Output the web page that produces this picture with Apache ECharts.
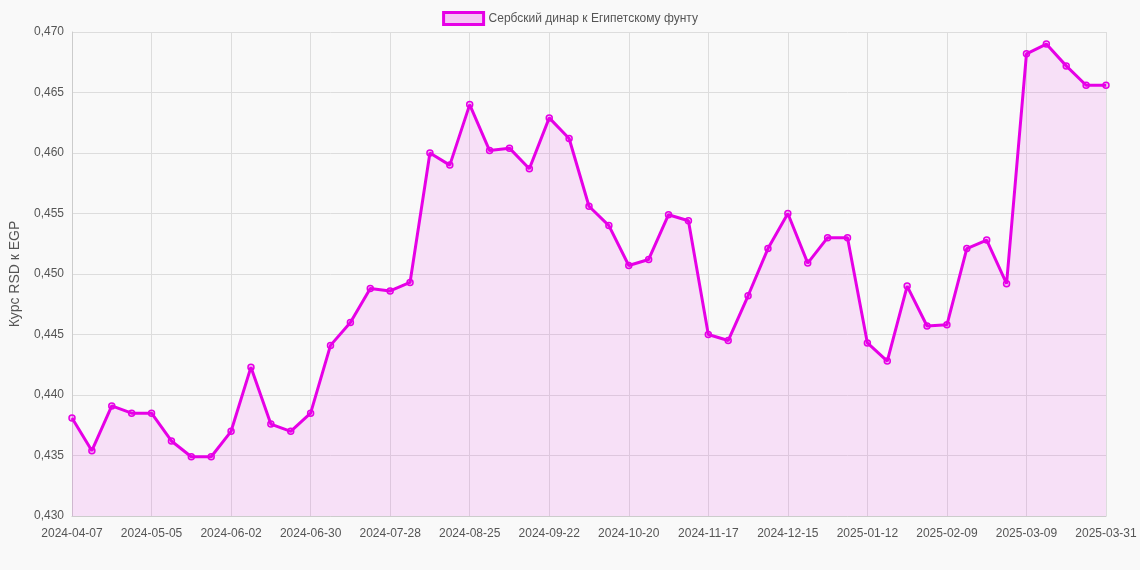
<!DOCTYPE html>
<html>
<head>
<meta charset="utf-8">
<script src="https://cdn.jsdelivr.net/npm/echarts@6/dist/echarts.min.js"></script>
<style>html,body{margin:0;background:#f9f9f9}#main{width:1140px;height:570px}</style>
</head>
<body>
<div id="main"></div>
<script>
// даты (еженедельно) и курс RSD к EGP
var dates = [];
var d0 = Date.UTC(2024, 3, 7);
for (var k = 0; k < 52; k++) {
    dates.push(new Date(d0 + k * 7 * 86400000).toISOString().slice(0, 10));
}
dates.push('2025-03-31');

var rates = [0.4381, 0.4354, 0.4391, 0.4385, 0.4385, 0.4362, 0.4349, 0.4349, 0.4370, 0.4423,
    0.4376, 0.4370, 0.4385, 0.4441, 0.4460, 0.4488, 0.4486, 0.4493, 0.4600, 0.4590,
    0.4640, 0.4602, 0.4604, 0.4587, 0.4629, 0.4612, 0.4556, 0.4540, 0.4507, 0.4512,
    0.4549, 0.4544, 0.4450, 0.4445, 0.4482, 0.4521, 0.4550, 0.4509, 0.4530, 0.4530,
    0.4443, 0.4428, 0.4490, 0.4457, 0.4458, 0.4521, 0.4528, 0.4492, 0.4682, 0.4690,
    0.4672, 0.4656, 0.4656];

var seriesName = 'Сербский динар к Египетскому фунту';

var myChart = echarts.init(document.getElementById('main'));
myChart.setOption({
    backgroundColor: '#f9f9f9',
    textStyle: {fontFamily: 'Arial, Liberation Sans, sans-serif'},
    legend: {
        top: 6, itemWidth: 40, itemHeight: 12,
        textStyle: {color: '#555', fontSize: 12},
        data: [{name: seriesName, icon: 'rect', itemStyle: {color: 'rgba(230,0,230,0.2)', borderColor: '#e600e6', borderWidth: 3}}]
    },
    grid: {left: 62, right: 34, top: 32, bottom: 54},
    xAxis: {
        type: 'category', boundaryGap: false, data: dates,
        axisLine: {lineStyle: {color: '#ccc'}},
        axisTick: {show: false},
        axisLabel: {
            color: '#555', fontSize: 12, margin: 12,
            interval: function (i) { return i % 4 === 0 || i === dates.length - 1; }
        },
        splitLine: {show: true, interval: function (i) { return i % 4 === 0 || i === dates.length - 1; }, lineStyle: {color: '#ddd'}}
    },
    yAxis: {
        type: 'value', min: 0.430, max: 0.470, interval: 0.005,
        name: 'Курс RSD к EGP', nameLocation: 'middle', nameGap: 50,
        nameTextStyle: {color: '#555', fontSize: 14},
        axisLine: {show: true, lineStyle: {color: '#ccc'}},
        axisLabel: {color: '#555', fontSize: 12, formatter: function (v) { return v.toFixed(3).replace('.', ','); }},
        splitLine: {lineStyle: {color: '#ddd'}}
    },
    series: [{
        name: seriesName, type: 'line', data: rates,
        symbol: 'circle', symbolSize: 6,
        lineStyle: {color: '#e600e6', width: 3},
        itemStyle: {color: 'rgba(230,0,230,0.2)', borderColor: '#e600e6', borderWidth: 1.5},
        areaStyle: {color: 'rgba(230,0,230,0.14)'}
    }]
});
</script>
</body>
</html>
